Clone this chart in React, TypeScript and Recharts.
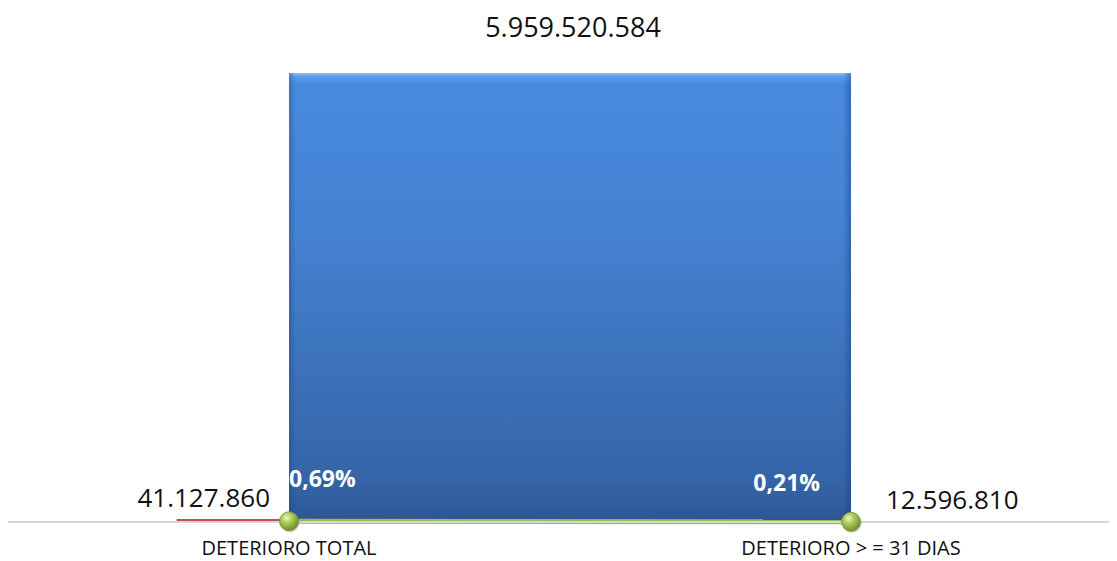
import {
  ComposedChart, Area, Line, XAxis, YAxis, ReferenceArea, ReferenceDot, LabelList,
} from 'recharts'

// categories and values
const categories = ['DETERIORO TOTAL', 'DETERIORO > = 31 DIAS']
const carteraTotal = [5959520584, 5959520584]
const deterioro = [41127860, 12596810]
const porcentaje = [0.69, 0.21]

const FONT = '"Open Sans", "Noto Sans", sans-serif'

const fmtNum = (v: number) => v.toString().replace(/\B(?=(\d{3})+(?!\d))/g, '.')
const fmtPct = (v: number) => `${v.toFixed(2).replace('.', ',')}%`

const data = categories.map((c, i) => ({
  x: i,
  name: c,
  total: carteraTotal[i],
  det: deterioro[i],
  pct: porcentaje[i],
}))

const CategoryTick = (props: any) => {
  const { x, y, payload } = props
  return (
    <text x={x} y={y} dy={33} textAnchor="middle" fontSize={20} fill="#111" fontFamily={FONT}>
      {categories[payload.value]}
    </text>
  )
}

const GreenDot = (props: any) => {
  const { cx, cy } = props
  if (cx == null || cy == null) return null
  return (
    <g>
      <circle cx={cx + 1} cy={cy + 1.5} r={9.5} fill="rgba(0,0,0,0.18)" />
      <circle cx={cx} cy={cy} r={9.5} fill="url(#greenBall)" stroke="#76933c" strokeWidth={0.8} />
    </g>
  )
}

const PctLabel = (props: any) => {
  const { x, y, index } = props
  const first = index === 0
  return (
    <text
      x={first ? x : x - 31}
      y={first ? y - 34 : y - 31}
      textAnchor={first ? 'start' : 'end'}
      fontSize={23}
      fontWeight={700}
      fill="#fff"
      fontFamily={FONT}
    >
      {fmtPct(porcentaje[index])}
    </text>
  )
}

const DetLabel = (props: any) => {
  const { x, y, index } = props
  const first = index === 0
  return (
    <text
      x={first ? x - 19 : x + 35}
      y={y - 12}
      textAnchor={first ? 'end' : 'start'}
      fontSize={26}
      fill="#111"
      fontFamily={FONT}
    >
      {fmtNum(deterioro[index])}
    </text>
  )
}

const TotalLabel = (props: any) => {
  const { viewBox } = props
  const cx = viewBox.x + (viewBox.width || 0) / 2
  return (
    <text x={cx + 3} y={viewBox.y - 36} textAnchor="middle" fontSize={27} fill="#111" fontFamily={FONT}>
      {fmtNum(carteraTotal[0])}
    </text>
  )
}

export default function App() {
  return (
    <ComposedChart
      width={1109}
      height={553}
      data={data}
      margin={{ top: 62, right: 0, left: 0, bottom: 0 }}
      style={{ fontFamily: FONT }}
    >
      <defs>
        <linearGradient id="blueFill" x1="0" y1="0" x2="0" y2="1">
          <stop offset="0%" stopColor="#8dbdf3" />
          <stop offset="0.8%" stopColor="#5d9ce8" />
          <stop offset="2.5%" stopColor="#488ade" />
          <stop offset="35%" stopColor="#4582d2" />
          <stop offset="90%" stopColor="#3565a8" />
          <stop offset="96%" stopColor="#305d9c" />
          <stop offset="100%" stopColor="#2d5690" />
        </linearGradient>
        <linearGradient id="blueEdge" x1="0" y1="0" x2="1" y2="0">
          <stop offset="0%" stopColor="#1f3f6e" stopOpacity={0.35} />
          <stop offset="1.2%" stopColor="#1f3f6e" stopOpacity={0} />
          <stop offset="98.6%" stopColor="#1f3f6e" stopOpacity={0} />
          <stop offset="100%" stopColor="#1f3f6e" stopOpacity={0.45} />
        </linearGradient>
        <radialGradient id="greenBall" cx="38%" cy="32%" r="70%">
          <stop offset="0%" stopColor="#eef6c4" />
          <stop offset="35%" stopColor="#b4d060" />
          <stop offset="100%" stopColor="#6d8c2a" />
        </radialGradient>
      </defs>
      <XAxis
        dataKey="x"
        type="number"
        domain={[-0.5, 1.4733]}
        allowDataOverflow
        ticks={[0, 1]}
        tick={<CategoryTick />}
        tickLine={false}
        tickSize={0}
        tickMargin={0}
        height={39}
        axisLine={{ stroke: '#d6d6d6', strokeWidth: 2 }}
      />
      <YAxis yAxisId="val" hide domain={[0, 6000000000]} />
      <YAxis yAxisId="pct" hide domain={[0, 400]} orientation="right" />
      <Area
        yAxisId="val"
        type="linear"
        dataKey="total"
        fill="url(#blueFill)"
        fillOpacity={1}
        stroke="none"
        isAnimationActive={false}
      />
      <Area
        yAxisId="val"
        type="linear"
        dataKey="total"
        fill="url(#blueEdge)"
        fillOpacity={1}
        stroke="none"
        isAnimationActive={false}
      />
      {data.map((d, i) => (
        <ReferenceArea
          key={d.name}
          yAxisId="val"
          x1={i === 0 ? i - 0.2 : i}
          x2={i === 0 ? i : i + 0.2}
          y1={0}
          y2={d.det}
          fill="#c0504d"
          fillOpacity={1}
          stroke="none"
        />
      ))}
      <ReferenceDot
        yAxisId="val"
        x={0.5}
        y={carteraTotal[0]}
        r={0}
        fill="none"
        stroke="none"
        label={<TotalLabel />}
      />
      <Line
        yAxisId="val"
        type="linear"
        dataKey="det"
        stroke="none"
        dot={false}
        activeDot={false}
        isAnimationActive={false}
      >
        <LabelList dataKey="det" content={<DetLabel />} />
      </Line>
      <Line
        yAxisId="pct"
        type="linear"
        dataKey="pct"
        stroke="#9bbb59"
        strokeWidth={5}
        dot={<GreenDot />}
        activeDot={false}
        isAnimationActive={false}
      >
        <LabelList dataKey="pct" content={<PctLabel />} />
      </Line>
    </ComposedChart>
  )
}
